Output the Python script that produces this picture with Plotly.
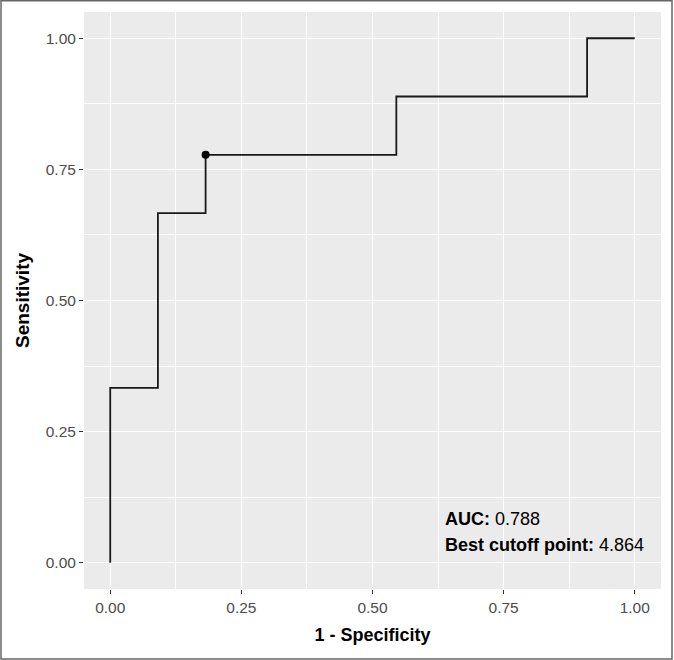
import plotly.graph_objects as go

# ROC data (steps)
fpr = [0.0, 0.0, 1/11, 2/11, 6/11, 10/11, 1.0]
tpr = [0.0, 1/3, 2/3, 7/9, 8/9, 1.0, 1.0]
best_fpr = [2/11]
best_tpr = [7/9]
auc_value = "0.788"
best_cutoff = "4.864"
tick_vals = [0.0, 0.25, 0.5, 0.75, 1.0]
tick_text = ["0.00", "0.25", "0.50", "0.75", "1.00"]
minor_vals = [0.125, 0.375, 0.625, 0.875]

FONT = "Liberation Sans, Arial, Helvetica, sans-serif"

fig = go.Figure()
fig.add_trace(go.Scatter(x=fpr, y=tpr, mode="lines", line=dict(color="#1a1a1a", width=1.8, shape="hv"),
                         hoverinfo="skip", showlegend=False))
fig.add_trace(go.Scatter(x=best_fpr, y=best_tpr, mode="markers", marker=dict(color="black", size=8),
                         showlegend=False))

axis_common = dict(
    tickmode="array", tickvals=tick_vals, ticktext=tick_text,
    showgrid=True, gridcolor="white", gridwidth=1.1,
    zeroline=False, showline=False,
    ticks="outside", ticklen=4, tickwidth=1.1, tickcolor="#333333",
    tickfont=dict(family=FONT, size=15.5, color="#4D4D4D"),
    minor=dict(tickmode="array", tickvals=minor_vals, showgrid=True, gridcolor="white", gridwidth=0.5, ticks=""),
)

fig.update_xaxes(range=[-0.05, 1.05], title=dict(text="<b>1 - Specificity</b>", font=dict(family=FONT, size=18, color="black"), standoff=13), **axis_common)
fig.update_yaxes(range=[-0.05, 1.05], title=dict(text="<b>Sensitivity</b>", font=dict(family=FONT, size=19, color="black"), standoff=11), **axis_common)

fig.add_annotation(x=0.635, y=0.0838, xref="x", yref="y", xanchor="left", yanchor="middle",
                   text="<b>AUC:</b> " + auc_value, showarrow=False,
                   font=dict(family=FONT, size=18, color="black"))
fig.add_annotation(x=0.635, y=0.0343, xref="x", yref="y", xanchor="left", yanchor="middle",
                   text="<b>Best cutoff point:</b> " + best_cutoff, showarrow=False,
                   font=dict(family=FONT, size=18, color="black"))

# image frame
fig.add_shape(type="rect", xref="paper", yref="paper",
              x0=(1 - 84) / 577, x1=(672 - 84) / 577, y0=(589 - 659) / 577, y1=(589 - 0.8) / 577,
              line=dict(color="#666666", width=1.5))

fig.update_layout(
    width=674, height=660,
    margin=dict(l=84, r=13, t=12, b=71),
    paper_bgcolor="white", plot_bgcolor="#EBEBEB",
    font=dict(family=FONT),
)

fig.write_html("out.html", config={"displayModeBar": False},
               post_script="document.body.style.margin='0';document.body.style.overflow='hidden';")
